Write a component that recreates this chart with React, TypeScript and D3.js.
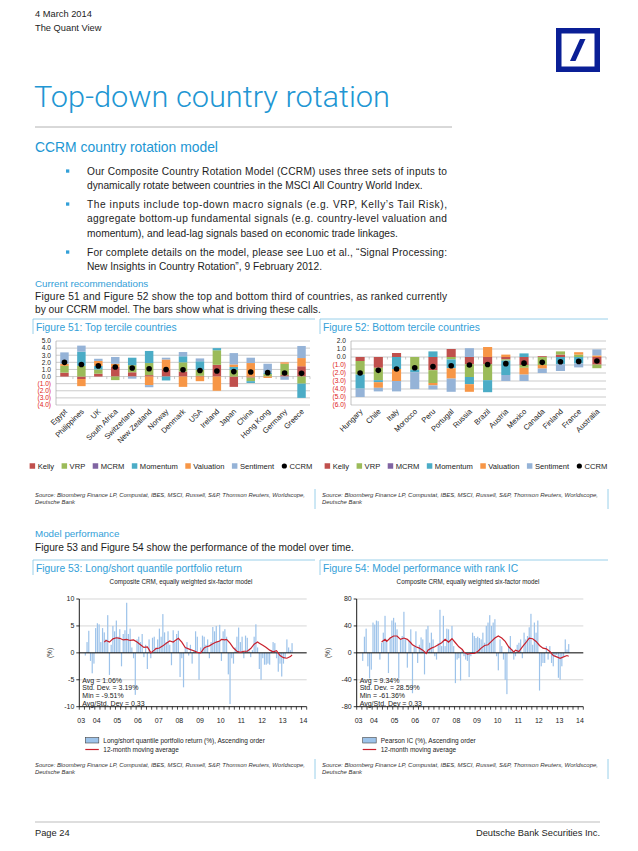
import React from 'react';
import * as d3 from 'd3';

const FONT = "'Liberation Sans', Arial, Helvetica, sans-serif";
const TITLE_BLUE = '#2196d3';
const HEAD_BLUE = '#33a0d8';
const LINE_BLUE = '#8fcbe8';
const DB_BLUE = '#0a1f96';
const TEXT = '#1d1d1d';

// ---------- Figure 51 / 52 data ----------
const seriesKeys = ['Kelly', 'VRP', 'MCRM', 'Momentum', 'Valuation', 'Sentiment'];
const seriesColors = ['#c0504d', '#9bbb59', '#8064a2', '#4bacc6', '#f79646', '#95b3d7'];

const countries51 = ['Egypt', 'Philippines', 'UK', 'South Africa', 'Switzerland', 'New Zealand', 'Norway', 'Denmark', 'USA', 'Ireland', 'Japan', 'China', 'Hong Kong', 'Germany', 'Greece'];
const kelly51 = [0.55, -0.35, 0.4, 1.35, 0.6, 0.2, 1.0, 0.7, 0.1, 1.65, -1.45, -0.15, 0, 0.2, 1.45];
const vrp51 = [0.95, 1.5, 0.6, -0.5, 1.0, 1.7, 0, 1.3, 0.85, 2.05, 0.95, -0.5, 0.35, 1.6, -1.0];
const mcrm51 = [0, 0, 0, 0, 0, 0, 0, 0, 0, 0, 0, 0, 0, 0, 0];
const momentum51 = [0, 2.0, 0.5, 0, 1.05, 1.7, -0.55, 0.85, 1.2, 0.3, 0.4, -0.25, 0.2, 0, -2.0];
const valuation51 = [0.3, -1.0, 0.7, 0.45, 0, -1.2, 1.4, -1.45, -0.65, -2.0, 0.35, 1.9, -0.2, 0.2, 1.15];
const sentiment51 = [1.6, 0.85, 0.3, 0.95, -0.3, -0.3, 0.25, 0.6, 0.4, 0, 1.6, 0.75, 1.25, -0.45, 1.7];
const ccrm51 = [2.0, 1.7, 1.5, 1.35, 1.2, 1.1, 1.0, 0.95, 0.85, 0.78, 0.7, 0.65, 0.55, 0.5, 0.45];

const countries52 = ['Hungary', 'Chile', 'Italy', 'Morocco', 'Peru', 'Portugal', 'Russia', 'Brazil', 'Austria', 'Mexico', 'Canada', 'Finland', 'France', 'Australia'];
const kelly52 = [-0.5, -1.35, 0.5, 0, -1.65, 1.0, -0.9, -0.9, -0.3, -1.0, 0.1, 0.3, 0, -0.95];
const vrp52 = [-1.7, -1.55, 0, -1.6, -1.6, -0.3, -1.6, -2.0, -0.15, -0.35, -1.0, 0.4, 0.3, -0.45];
const mcrm52 = [0, 0, 0, 0, 0, 0, 0, 0, 0, 0, 0, 0, 0, 0];
const momentum52 = [-1.75, -0.25, -1.5, -0.3, 0.7, -1.1, -0.9, -1.5, -1.8, 0.45, 0, -0.9, -0.8, 0];
const valuation52 = [0, -0.7, -1.5, 0, -0.3, -1.3, -0.95, 1.25, 0.3, -0.85, -0.45, 0, 0.3, 0.2];
const sentiment52 = [-1.05, -0.45, -1.3, -2.1, -0.5, -1.65, 1.1, 0, -0.75, -0.8, -0.55, -0.85, -0.5, 0.75];
const ccrm52 = [-2.0, -1.67, -1.5, -1.35, -1.2, -1.1, -1.0, -0.93, -0.83, -0.77, -0.67, -0.6, -0.55, -0.5];

// ---------- Figure 53 / 54 data (monthly, axis Apr 2003 .. Mar 2014; data from Jul 2003) ----------
const axisMonths = 132;
const firstDataMonth = 3; // months after Apr 2003
const yearLabels = ['03', '04', '05', '06', '07', '08', '09', '10', '11', '12', '13', '14'];

const lsReturn = [
  -0.5, 2.0, 4.1, -1.5, -3.8, -2.0, 4.6, 5.5, 5.3, 2.0,
  4.6, 3.8, 2.5, 7.0, -4.1, 1.5, 5.0, 4.0, 6.0, 3.0,
  4.4, -2.5, 3.5, 4.2, 9.3, 3.5, 4.5, 1.0, -1.0, -7.8,
  2.5, 3.0, 2.0, 3.5, -0.8, 1.5, -3.0, 2.5, -1.0, 2.8,
  3.0, 1.0, 2.5, 4.5, 3.0, 7.2, 3.8, 2.0, 4.0, 1.5,
  -2.3, 4.2, 2.0, 3.5, 4.1, -4.5, -1.0, -6.4, 1.0, 2.0,
  -0.5, 1.5, -2.0, 0.5, 4.0, 3.0, -5.0, 1.0, 3.2, 3.0,
  1.5, 2.5, -1.0, 2.0, 4.8, 4.0, 5.0, 2.0, 5.2, -1.5,
  4.0, 4.4, 3.0, -4.0, -9.51, -1.0, -2.0, 1.0, 3.0, 4.7,
  2.0, 3.0, -1.0, 3.2, 2.8, 0.5, -0.8, 0.5, 3.0, 5.3,
  1.0, -3.0, -5.0, -1.0, -2.2, -2.2, -2.0, -2.2, 0.5, 2.0,
  1.8, -1.0, -3.5, -2.0, -4.4, -2.0, -1.0, 2.5, 1.0, 0.5, 1.8,
];
const maMonth53 = [14, 15, 17, 19, 21, 23, 25, 27, 29, 31, 33, 35, 37, 39, 40, 41, 43, 44, 46, 48, 50, 52, 54, 57, 59, 61, 64, 66, 68, 70, 72, 73, 75, 77, 79, 81, 82, 84, 85, 87, 89, 91, 93, 95, 97, 99, 101, 103, 104, 106, 108, 110, 112, 114, 116, 118, 120, 122, 123];
const maValue53 = [2.0, 2.3, 2.0, 2.6, 2.8, 2.7, 2.4, 2.5, 2.3, 2.4, 2.0, 1.5, 1.0, 1.1, 0.6, 0.0, 0.5, 0.8, 0.9, 1.3, 1.8, 2.2, 2.0, 2.7, 2.0, 1.0, 0.6, 0.4, 0.1, 0.0, 0.9, 1.1, 1.3, 1.7, 2.0, 2.2, 2.5, 2.4, 2.5, 1.8, 0.9, 0.3, 0.1, 0.3, 0.3, 0.8, 1.6, 2.0, 1.8, 1.4, 1.0, 0.5, 0.2, 0.4, -0.5, -0.9, -1.0, -0.7, -0.4];
const stats53 = ['Avg = 1.06%', 'Std. Dev. = 3.19%', 'Min = -9.51%', 'Avg/Std. Dev = 0.33'];

const pearsonIC = [
  -12, 24, 36, -20, -38, -25, 45, 42, 48, 47,
  -10, 15, 30, 55, 20, -30, 23, 48, 52, 45,
  35, -38, 20, 25, 61, 20, -22, 18, 35, -60,
  10, 32, -15, 12, 23, 20, -32, 35, 40, 15,
  30, 20, -5, -10, 14, 64, 10, 55, 10, 36,
  35, 20, 40, 10, -45, -10, -8, -41, 5, -5,
  -10, -12, -36, -5, 30, 25, 22, 24, 22, 20,
  30, 15, 40, 45, 56, 40, 45, 50, -5, -26,
  20, 10, -10, -40, -61.36, 10, 25, 5, -10, -5,
  12, 15, 20, -8, 30, 20, 25, 38, 58, 12,
  45, 30, 48, -56, -20, -15, -15, 10, -10, 10,
  -15, -20, -5, -3, -37, -40, -20, -5, 20, 5, 13,
];
const maMonth54 = [14, 16, 17, 19, 21, 23, 25, 27, 29, 31, 32, 34, 36, 38, 40, 41, 43, 45, 47, 49, 51, 53, 55, 57, 59, 61, 62, 64, 66, 68, 70, 72, 74, 76, 78, 80, 82, 84, 86, 88, 90, 91, 92, 94, 96, 98, 100, 102, 104, 106, 108, 110, 112, 114, 116, 118, 120, 122, 123];
const maValue54 = [16, 20, 17, 22, 25, 25, 20, 22, 20, 15, 12, 9, 7, 4, -1, 4, 7, 9, 12, 15, 20, 16, 21, 15, 9, 5, 1, -2, -1, -1, 2, 7, 11, 12, 17, 22, 25, 22, 17, 9, 4, 1, 4, 2, 9, 15, 22, 21, 17, 11, 7, 6, 2, -4, -6, -8, -6, -4, -5];
const stats54 = ['Avg = 9.34%', 'Std. Dev. = 28.59%', 'Min = -61.36%', 'Avg/Std. Dev = 0.33'];

// ---------- text ----------
const bullets: [string, boolean][][] = [
  [
    ['Our Composite Country Rotation Model (CCRM) uses three sets of inputs to', true],
    ['dynamically rotate between countries in the MSCI All Country World Index.', false],
  ],
  [
    ['The inputs include top-down macro signals (e.g. VRP, Kelly\u2019s Tail Risk),', true],
    ['aggregate bottom-up fundamental signals (e.g. country-level valuation and', true],
    ['momentum), and lead-lag signals based on economic trade linkages.', false],
  ],
  [
    ['For complete details on the model, please see Luo et al., \u201cSignal Processing:', true],
    ['New Insights in Country Rotation\u201d, 9 February 2012.', false],
  ],
];
const SOURCE1 = 'Source: Bloomberg Finance LP, Compustat, IBES, MSCI, Russell, S&P, Thomson Reuters, Worldscope,';
const SOURCE2 = 'Deutsche Bank';

let ctx: CanvasRenderingContext2D | null = null;
function textWidth(s: string, size: number): number {
  if (!ctx) {
    const c = document.createElement('canvas');
    ctx = c.getContext('2d');
  }
  if (!ctx) return s.length * size * 0.5;
  ctx.font = `${size}px 'Liberation Sans', Arial, sans-serif`;
  return ctx.measureText(s).width;
}

function FigHeader({ x0, x1, y, title }: { x0: number; x1: number; y: number; title: string }) {
  return (
    <g>
      <line x1={x0} x2={x1} y1={y} y2={y} stroke={LINE_BLUE} strokeWidth={0.9} />
      <line x1={x0} x2={x0} y1={y} y2={y + 15} stroke={LINE_BLUE} strokeWidth={0.9} />
      <text x={x0 + 3} y={y + 12} fontSize={10.3} fill={HEAD_BLUE} fontFamily={FONT}>{title}</text>
    </g>
  );
}

function Source({ x0, x1, y }: { x0: number; x1: number; y: number }) {
  return (
    <g fontFamily={FONT} fontStyle="italic" fontSize={5.9} fill="#333">
      <text x={x0 + 2} y={y} textLength={x1 - x0 - 12} lengthAdjust="spacingAndGlyphs">{SOURCE1}</text>
      <text x={x0 + 2} y={y + 7}>{SOURCE2}</text>
      <line x1={x1} x2={x1} y1={y - 8} y2={y + 12} stroke={LINE_BLUE} strokeWidth={0.9} />
    </g>
  );
}

type StackProps = {
  countries: string[];
  values: number[][];
  ccrm: number[];
  x0: number; x1: number; yTop: number; yBot: number;
  yMin: number; yMax: number; legendY: number; legendCenter: number;
};

function StackChart(p: StackProps) {
  const rows = p.countries.map((c, i) => {
    const r: any = { country: c };
    seriesKeys.forEach((k, j) => { r[k] = p.values[j][i]; });
    return r;
  });
  const stacked = d3.stack<any>().keys(seriesKeys).offset(d3.stackOffsetDiverging)(rows);
  const x = d3.scaleBand<string>().domain(p.countries).range([p.x0, p.x1]).paddingInner(0.5).paddingOuter(0.25);
  const y = d3.scaleLinear().domain([p.yMin, p.yMax]).range([p.yBot, p.yTop]);
  const ticks = d3.range(p.yMin, p.yMax + 0.001, 1);
  const fmt = (v: number) => (v < 0 ? `(${(-v).toFixed(1)})` : v.toFixed(1));
  const step = x.step();
  const bw = x.bandwidth();

  const lsize = 7.6;
  const items = seriesKeys.map((k, i) => ({ label: k, color: seriesColors[i], dot: false })).concat([{ label: 'CCRM', color: '#000', dot: true }]);
  const widths = items.map((it) => 5.5 + 2.5 + textWidth(it.label, lsize));
  const gap = 7.5;
  const total = d3.sum(widths) + gap * (items.length - 1);
  let cur = p.legendCenter - total / 2;
  const pos = widths.map((w) => { const s = cur; cur += w + gap; return s; });

  return (
    <g fontFamily={FONT}>
      {ticks.map((t) => (
        <g key={t}>
          <line x1={p.x0} x2={p.x1} y1={y(t)} y2={y(t)} stroke="#a8a8a8" strokeWidth={0.6} />
          <text x={p.x0 - 5} y={y(t) + 2.3} fontSize={6.6} textAnchor="end" fill={t < 0 ? '#e02020' : '#222'}>{fmt(t)}</text>
        </g>
      ))}
      <line x1={p.x0} x2={p.x0} y1={p.yTop} y2={p.yBot} stroke="#a8a8a8" strokeWidth={0.7} />
      {p.countries.map((c, i) => (
        <line key={c} x1={p.x0 + (i + 1) * step} x2={p.x0 + (i + 1) * step} y1={y(0)} y2={y(0) + 2.5} stroke="#a8a8a8" strokeWidth={0.6} />
      ))}
      {stacked.map((s, j) => (
        <g key={s.key} fill={seriesColors[j]}>
          {s.map((d, i) => {
            const h = Math.abs(y(d[0]) - y(d[1]));
            if (h < 0.01) return null;
            return <rect key={i} x={x(p.countries[i])} y={Math.min(y(d[0]), y(d[1]))} width={bw} height={h} />;
          })}
        </g>
      ))}
      {p.ccrm.map((v, i) => (
        <circle key={i} cx={(x(p.countries[i]) as number) + bw / 2} cy={y(v)} r={2.8} fill="#000" />
      ))}
      {p.countries.map((c) => {
        const cx = (x(c) as number) + bw / 2 + 3;
        const cy = p.yBot + 7;
        return (
          <text key={c} x={cx} y={cy} fontSize={7.6} textAnchor="end" fill="#222" transform={`rotate(-45 ${cx} ${cy})`}>{c}</text>
        );
      })}
      {items.map((it, i) => (
        <g key={it.label}>
          {it.dot ? (
            <circle cx={pos[i] + 2.75} cy={p.legendY} r={2.6} fill="#000" />
          ) : (
            <rect x={pos[i]} y={p.legendY - 2.75} width={5.5} height={5.5} fill={it.color} />
          )}
          <text x={pos[i] + 8} y={p.legendY + 2.6} fontSize={lsize} fill="#222">{it.label}</text>
        </g>
      ))}
    </g>
  );
}

type TimeProps = {
  values: number[]; maMonth: number[]; maValue: number[];
  x0: number; x1: number; yMax: number; stats: string[]; legendLabel: string; subtitleX: number;
};

function TimeChart(p: TimeProps) {
  const yTop = 599, yBot = 706.7;
  const x = d3.scaleBand<number>().domain(d3.range(axisMonths)).range([p.x0, p.x1]).paddingInner(0.3).paddingOuter(0.15);
  const y = d3.scaleLinear().domain([-p.yMax, p.yMax]).range([yBot, yTop]);
  const step = (p.x1 - p.x0) / axisMonths;
  const bw = x.bandwidth();
  const ticks = [-p.yMax, -p.yMax / 2, 0, p.yMax / 2, p.yMax];
  const line = d3.line<number>().x((m) => (x(m) as number) + bw / 2).y((_, i) => y(p.maValue[i]));
  const labelMonths = yearLabels.map((_, i) => (i === 0 ? 0 : 9 + 12 * (i - 1)));
  return (
    <g fontFamily={FONT}>
      <text x={p.subtitleX} y={584} fontSize={6.3} textAnchor="middle" fill="#222">Composite CRM, equally weighted six-factor model</text>
      {ticks.filter((t) => t !== 0 && t !== -p.yMax).map((t) => (
        <line key={t} x1={p.x0} x2={p.x1} y1={y(t)} y2={y(t)} stroke="#c4c4c4" strokeWidth={0.7} />
      ))}
      {p.values.map((v, i) => {
        const m = firstDataMonth + i;
        return <rect key={i} x={x(m)} y={Math.min(y(0), y(v))} width={bw} height={Math.abs(y(v) - y(0))} fill="#9dc3ea" />;
      })}
      <line x1={p.x0} x2={p.x1} y1={y(0)} y2={y(0)} stroke="#000" strokeWidth={1} />
      <path d={line(p.maMonth) || ''} fill="none" stroke="#c8202c" strokeWidth={1.2} />
      <line x1={p.x0} x2={p.x1} y1={yBot} y2={yBot} stroke="#000" strokeWidth={0.9} />
      <line x1={p.x0} x2={p.x0} y1={yTop} y2={yBot} stroke="#000" strokeWidth={0.9} />
      {ticks.map((t) => (
        <g key={t}>
          <line x1={p.x0 - 3} x2={p.x0} y1={y(t)} y2={y(t)} stroke="#000" strokeWidth={0.8} />
          <text x={p.x0 - 5} y={y(t) + 2.4} fontSize={7} textAnchor="end" fill="#222">{t}</text>
        </g>
      ))}
      {d3.range(0, axisMonths + 1, 3).map((m) => (
        <line key={m} x1={p.x0 + m * step} x2={p.x0 + m * step} y1={yBot} y2={yBot + 3} stroke="#000" strokeWidth={0.7} />
      ))}
      {yearLabels.map((l, i) => (
        <text key={l} x={(x(labelMonths[i]) as number) + bw / 2 + 1} y={722.5} fontSize={7} textAnchor="middle" fill="#222">{l}</text>
      ))}
      <text transform={`translate(${p.x0 - 27},653) rotate(-90)`} fontSize={6.5} textAnchor="middle" fill="#222">(%)</text>
      {p.stats.map((s, i) => (
        <text key={s} x={p.x0 + 3} y={[682.5, 690, 697.5, 706][i]} fontSize={7} fill="#222">{s}</text>
      ))}
      <rect x={p.x0 + 6} y={737.5} width={13.5} height={5.5} fill="#9dc3ea" stroke="#444" strokeWidth={0.6} />
      <text x={p.x0 + 24} y={742.6} fontSize={6.5} fill="#222">{p.legendLabel}</text>
      <line x1={p.x0 + 6} x2={p.x0 + 19.5} y1={749.5} y2={749.5} stroke="#c8202c" strokeWidth={1.2} />
      <text x={p.x0 + 24} y={752} fontSize={6.5} fill="#222">12-month moving average</text>
    </g>
  );
}

function Logo() {
  const x = 556, y = 28, s = 44;
  return (
    <g>
      <rect x={x + 2.75} y={y + 2.75} width={s - 5.5} height={s - 5.5} fill="#fff" stroke={DB_BLUE} strokeWidth={5.5} />
      <polygon points={`${x + 14},${y + 33} ${x + 19.5},${y + 33} ${x + 29.5},${y + 11} ${x + 24},${y + 11}`} fill={DB_BLUE} />
    </g>
  );
}

export default function App() {
  const L = 35;
  const bulletTop = [171, 204, 252];
  const lh = 14.6;
  return (
    <svg width={638} height={851} viewBox="0 0 638 851" style={{ position: 'absolute', left: 0, top: 0, background: '#fff' }} fontFamily={FONT}>
      <rect x={0} y={0} width={638} height={851} fill="#fff" />
      <text x={L} y={16.5} fontSize={9.3} fill={TEXT}>4 March 2014</text>
      <text x={L} y={30.5} fontSize={9.3} fill={TEXT}>The Quant View</text>
      <Logo />
      <text x={L - 1} y={107} fontSize={29} fontFamily="Roboto, 'Liberation Sans', Arial, sans-serif" fontWeight={300} fill={TITLE_BLUE} textLength={356} lengthAdjust="spacingAndGlyphs">Top-down country rotation</text>
      <line x1={35} x2={452} y1={127} y2={127} stroke="#a0a0a0" strokeWidth={0.8} />
      <text x={L} y={151.5} fontSize={13.9} fill={TITLE_BLUE}>CCRM country rotation model</text>

      {bullets.map((para, pi) => (
        <g key={pi}>
          <rect x={66} y={bulletTop[pi] - 1.6} width={3.3} height={3.3} fill={HEAD_BLUE} />
          {para.map(([t, j], li) => (
            <text key={li} x={87} y={bulletTop[pi] + li * lh + 3.6} fontSize={10.2} fill={TEXT}
              {...(j ? { textLength: 360, lengthAdjust: 'spacing' } : {})}>{t}</text>
          ))}
        </g>
      ))}
      <text x={L} y={286.5} fontSize={9.8} fill={HEAD_BLUE}>Current recommendations</text>
      <text x={L} y={299.5} fontSize={10.2} fill={TEXT} textLength={412} lengthAdjust="spacing">Figure 51 and Figure 52 show the top and bottom third of countries, as ranked currently</text>
      <text x={L} y={312.5} fontSize={10.2} fill={TEXT}>by our CCRM model. The bars show what is driving these calls.</text>

      <FigHeader x0={33} x1={315} y={319} title="Figure 51: Top tercile countries" />
      <FigHeader x0={320} x1={608} y={319} title="Figure 52: Bottom tercile countries" />
      <StackChart countries={countries51} values={[kelly51, vrp51, mcrm51, momentum51, valuation51, sentiment51]} ccrm={ccrm51}
        x0={56} x1={310} yTop={341} yBot={405} yMin={-4} yMax={5} legendY={466} legendCenter={171} />
      <StackChart countries={countries52} values={[kelly52, vrp52, mcrm52, momentum52, valuation52, sentiment52]} ccrm={ccrm52}
        x0={351} x1={606} yTop={341} yBot={405} yMin={-6} yMax={2} legendY={466} legendCenter={466} />
      <Source x0={33} x1={315} y={497} />
      <Source x0={320} x1={608} y={497} />

      <text x={L} y={536.5} fontSize={9.8} fill={HEAD_BLUE}>Model performance</text>
      <text x={L} y={550.5} fontSize={10.2} fill={TEXT}>Figure 53 and Figure 54 show the performance of the model over time.</text>

      <FigHeader x0={33} x1={315} y={560} title="Figure 53: Long/short quantile portfolio return" />
      <FigHeader x0={320} x1={608} y={560} title="Figure 54: Model performance with rank IC" />
      <TimeChart values={lsReturn} maMonth={maMonth53} maValue={maValue53} x0={79.3} x1={306.7} yMax={10} stats={stats53}
        legendLabel="Long/short quantile portfolio return (%), Ascending order" subtitleX={181} />
      <TimeChart values={pearsonIC} maMonth={maMonth54} maValue={maValue54} x0={356.7} x1={583.3} yMax={80} stats={stats54}
        legendLabel="Pearson IC (%), Ascending order" subtitleX={468} />
      <Source x0={33} x1={315} y={767} />
      <Source x0={320} x1={608} y={767} />

      <line x1={35} x2={600} y1={822} y2={822} stroke="#a0a0a0" strokeWidth={0.7} />
      <text x={L} y={836} fontSize={9.3} fill={TEXT}>Page 24</text>
      <text x={600} y={836} fontSize={9.3} fill={TEXT} textAnchor="end">Deutsche Bank Securities Inc.</text>
    </svg>
  );
}
